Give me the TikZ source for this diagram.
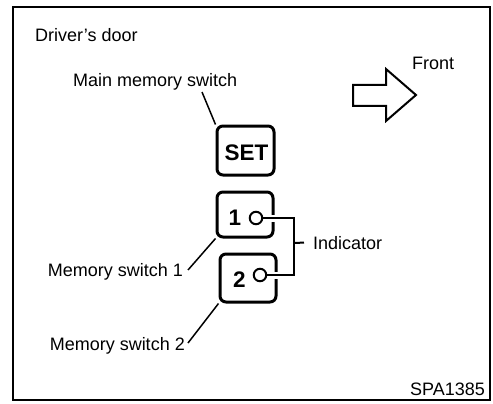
\documentclass[tikz,border=0pt]{standalone}
\usepackage{fontspec}
\setmainfont{Liberation Sans}
\usepackage{tikz}
\usetikzlibrary{calc}
\tikzstyle{keybox} = [draw=black, line width=3pt, rectangle, rounded corners=6pt, inner sep=0pt]
\tikzstyle{keytext} = [font=\fontsize{22.5}{26}\selectfont\bfseries, inner sep=0pt, anchor=base]
\tikzstyle{lamp} = [draw=black, line width=2pt, circle, minimum size=12.5pt, inner sep=0pt]
\tikzstyle{lbl} = [font=\fontsize{18}{21}\selectfont, inner sep=0pt]
\tikzstyle{leader} = [line width=1.5pt]

\begin{document}
\begin{tikzpicture}[x=1pt, y=-1pt]
        \useasboundingbox (0,0) rectangle (493,404);
        \draw[line width=1.2pt] (13,7) rectangle (490,400);
        \node[lbl, anchor=base west] (door) at (35,42) {Driver's door};
        \node[lbl, anchor=base west] (mainlbl) at (73,87) {Main memory switch};
        \node[lbl, anchor=base west] (front) at (412,70) {Front};
        \node[lbl, anchor=base east] (mem1) at (183,276) {Memory switch 1};
        \node[lbl, anchor=base east] (mem2) at (185,350) {Memory switch 2};
        \node[lbl, anchor=base west] (indlbl) at (313,249) {Indicator};
        \node[lbl, anchor=base east] (code) at (485,395) {SPA1385};
        \node[keybox, minimum width=57pt, minimum height=49pt] (setkey) at (245.5,150.5) {};
        \node[keytext] (settxt) at (246.5,160) {SET};
        \node[keybox, minimum width=56pt, minimum height=45pt] (key1) at (245,214.5) {};
        \node[keytext] (dig1) at (235,225) {1};
        \node[keybox, minimum width=56pt, minimum height=48pt] (key2) at (248,278) {};
        \node[keytext] (dig2) at (239.5,287) {2};
        \node[lamp] (ind1) at (256,218) {};
        \node[lamp] (ind2) at (260,275) {};
        % gaps in the key edges
        \draw[white, line width=7pt] ([xshift=4pt]ind1.east) -- ([xshift=4pt]ind1.east -| key1.east);
        \draw[white, line width=7pt] ([xshift=4pt]ind2.east) -- ([xshift=4pt]ind2.east -| key2.east);
        \coordinate (mainfoot) at (202,92);
        \coordinate (junc) at (294,243);
        \draw[leader] (mainfoot) -- (setkey.north west);
        \draw[leader] ($(mem1.base east)+(5,-6)$) -- (key1.south west);
        \draw[leader] ($(mem2.base east)+(3,-7)$) -- (key2.south west);
        \draw[line width=2pt] (ind1.east) -| (junc) |- (ind2.east);
        \draw[line width=2pt] (junc) -- ([xshift=-9pt]indlbl.west);
        \draw[line width=2pt] (353,85) -- (386,85) -- (386,69) -- (416,95) -- (386,121) -- (386,106) -- (353,106) -- cycle;
    \end{tikzpicture}
\end{document}
